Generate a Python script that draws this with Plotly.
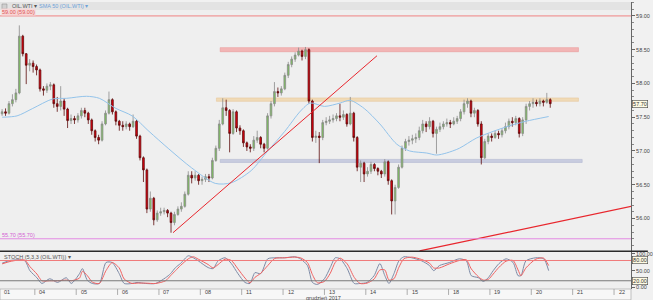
import plotly.graph_objects as go

# ---------------- data ----------------
day_labels = ["01", "04", "05", "06", "07", "08", "11", "12", "13", "14", "15", "18", "19", "20", "21", "22"]
month_label = "grudzień 2017"
symbol = "OIL.WTI"

first_open = 57.55
closes = [
    57.58, 57.56, 57.70, 57.76, 57.86, 58.70, 58.44, 58.27, 58.30, 58.25,
    58.20, 57.92, 57.90, 57.96, 57.98, 57.70, 57.66, 57.74, 57.62, 57.45, 57.48, 57.46,
    57.52, 57.60, 57.56, 57.46, 57.30, 57.20, 57.16, 57.40, 57.56, 57.76, 57.58, 57.44,
    57.38, 57.36, 57.40, 57.36, 57.44, 57.22, 56.90, 56.72, 56.14, 56.30, 55.98, 56.08,
    56.10, 56.12, 56.08, 55.94, 56.06, 56.14, 56.18, 56.36, 56.64, 56.60, 56.64, 56.56,
    56.58, 56.62, 56.60, 56.86, 57.04, 57.40, 57.64, 57.60, 57.26, 57.58, 57.34, 57.30,
    57.12, 57.06, 57.04, 57.16, 57.20, 57.10, 57.04, 57.52, 57.70, 57.88, 57.86, 57.92,
    58.12, 58.28, 58.36, 58.42, 58.48, 58.40, 58.50, 57.74, 57.20, 57.22, 57.20, 57.42,
    57.44, 57.46, 57.48, 57.52, 57.50, 57.54, 57.40, 57.56, 57.20, 56.76, 56.82, 56.66,
    56.70, 56.80, 56.74, 56.70, 56.66, 56.84, 56.56, 56.26, 56.46, 56.76, 57.04, 57.14,
    57.16, 57.18, 57.20, 57.30, 57.40, 57.36, 57.44, 57.26, 57.32, 57.36, 57.40, 57.42,
    57.40, 57.44, 57.48, 57.58, 57.70, 57.74, 57.56, 57.60, 57.40, 56.90, 57.14, 57.22,
    57.20, 57.26, 57.24, 57.30, 57.36, 57.44, 57.42, 57.48, 57.26, 57.46, 57.66, 57.70,
    57.72, 57.70, 57.74, 57.72, 57.76, 57.70,
]
highs = [
    57.62, 57.63, 57.74, 57.84, 57.92, 58.86, 58.72, 58.45, 58.36, 58.34,
    58.28, 58.22, 57.96, 58.00, 58.02, 58.00, 57.80, 57.96, 57.78, 57.64, 57.54, 57.52,
    57.56, 57.64, 57.64, 57.58, 57.48, 57.32, 57.24, 57.44, 57.60, 57.88, 57.78, 57.60,
    57.46, 57.44, 57.44, 57.42, 57.54, 57.46, 57.24, 56.92, 56.74, 56.40, 56.32, 56.12,
    56.16, 56.16, 56.14, 56.10, 56.10, 56.18, 56.24, 56.40, 56.70, 56.70, 56.70, 56.66,
    56.62, 56.66, 56.66, 56.90, 57.08, 57.46, 57.78, 57.76, 57.62, 57.62, 57.60, 57.38,
    57.32, 57.14, 57.10, 57.22, 57.30, 57.22, 57.12, 57.56, 57.74, 58.02, 57.94, 57.96,
    58.16, 58.32, 58.40, 58.46, 58.53, 58.50, 58.54, 58.52, 57.76, 57.30, 57.28, 57.46,
    57.50, 57.52, 57.54, 57.56, 57.70, 57.60, 57.56, 57.80, 57.58, 57.22, 56.86, 56.84,
    56.76, 56.84, 56.82, 56.76, 56.72, 56.88, 56.86, 56.58, 56.50, 56.80, 57.08, 57.18,
    57.22, 57.24, 57.26, 57.36, 57.46, 57.44, 57.50, 57.46, 57.36, 57.42, 57.44, 57.48,
    57.46, 57.50, 57.52, 57.62, 57.76, 57.78, 57.76, 57.64, 57.62, 57.44, 57.18, 57.26,
    57.26, 57.30, 57.30, 57.34, 57.42, 57.48, 57.50, 57.52, 57.50, 57.50, 57.70, 57.74,
    57.78, 57.76, 57.78, 57.76, 57.86, 57.78,
]
lows = [
    57.52, 57.52, 57.54, 57.66, 57.72, 57.84, 58.40, 57.99, 58.18, 58.16,
    58.12, 57.88, 57.82, 57.86, 57.90, 57.64, 57.58, 57.60, 57.52, 57.34, 57.40, 57.40,
    57.42, 57.48, 57.50, 57.40, 57.24, 57.14, 57.10, 57.14, 57.38, 57.54, 57.54, 57.38,
    57.30, 57.30, 57.32, 57.30, 57.34, 57.18, 56.86, 56.54, 56.08, 56.10, 55.90, 55.95,
    56.04, 56.06, 56.02, 55.79, 55.90, 56.04, 56.10, 56.16, 56.34, 56.52, 56.56, 56.50,
    56.50, 56.54, 56.54, 56.58, 56.84, 57.00, 57.38, 57.52, 56.98, 57.24, 57.28, 57.24,
    57.06, 57.00, 56.98, 57.00, 57.12, 57.04, 56.98, 57.02, 57.48, 57.66, 57.80, 57.82,
    57.90, 58.08, 58.24, 58.32, 58.40, 58.34, 58.36, 57.70, 57.14, 57.12, 56.82, 57.16,
    57.38, 57.40, 57.42, 57.44, 57.44, 57.46, 57.36, 57.38, 57.14, 56.70, 56.54, 56.54,
    56.62, 56.66, 56.70, 56.64, 56.60, 56.62, 56.50, 56.06, 56.06, 56.44, 56.74, 57.00,
    57.08, 57.10, 57.12, 57.16, 57.26, 57.28, 57.32, 57.20, 56.96, 57.28, 57.32, 57.36,
    57.34, 57.38, 57.40, 57.44, 57.54, 57.64, 57.50, 57.50, 57.36, 56.80, 56.88, 57.10,
    57.14, 57.18, 57.18, 57.20, 57.26, 57.32, 57.36, 57.38, 57.20, 57.22, 57.40, 57.60,
    57.64, 57.66, 57.66, 57.66, 57.70, 57.64,
]

# SMA 50 (time in trading-day units, price)
sma_t = [0.21, 0.57, 0.95, 1.43, 1.77, 2.25, 2.56, 2.96, 3.35, 3.76, 4.24, 4.79, 5.36, 5.75,
         6.23, 6.63, 7.04, 7.42, 7.66, 8.00, 8.38, 8.62, 8.96, 9.34, 9.75, 10.06, 10.47,
         10.71, 10.95, 11.26, 11.67, 12.08, 12.46, 12.87, 13.42]
sma_vals = [57.50, 57.52, 57.63, 57.77, 57.78, 57.81, 57.78, 57.63, 57.52, 57.29, 57.03, 56.75,
            56.52, 56.53, 56.71, 57.00, 57.29, 57.59, 57.71, 57.66, 57.71, 57.75, 57.63, 57.40,
            57.10, 57.00, 56.97, 56.94, 56.97, 57.04, 57.19, 57.29, 57.37, 57.44, 57.51]

# Stochastic oscillator
stoch_t = [0.21, 0.40, 0.59, 0.76, 0.88, 1.05, 1.17, 1.36, 1.55, 1.76, 1.88, 2.08, 2.15, 2.27,
           2.39, 2.56, 2.72, 2.87, 3.04, 3.16, 3.35, 3.47, 3.68, 3.92, 4.16, 4.28, 4.40, 4.52,
           4.71, 4.83, 4.95, 5.19, 5.31, 5.43, 5.60, 5.75, 5.91, 6.08, 6.20, 6.32, 6.46, 6.63,
           6.80, 7.04, 7.28, 7.42, 7.59, 7.71, 7.83, 8.00, 8.14, 8.26, 8.38, 8.55, 8.72, 8.86,
           9.03, 9.20, 9.34, 9.46, 9.56, 9.68, 9.80, 9.92, 10.11, 10.35, 10.54, 10.64, 10.78,
           11.02, 11.26, 11.43, 11.55, 11.72, 11.84, 11.96, 12.08, 12.22, 12.39, 12.56, 12.68,
           12.75, 12.87, 13.11, 13.30, 13.42]
stoch_k = [72, 80, 82, 79, 50, 29, 12, 26, 15, 29, 12, 41, 56, 21, 12, 12, 74, 74, 41, 12,
           12, 15, 12, 12, 29, 41, 59, 71, 94, 88, 79, 59, 56, 79, 88, 71, 41, 15, 12, 44,
           41, 85, 88, 88, 91, 85, 65, 15, 9, 26, 59, 88, 85, 56, 12, 12, 15, 35, 71, 35,
           12, 41, 79, 91, 88, 79, 65, 50, 65, 74, 85, 79, 35, 29, 18, 29, 50, 71, 85, 74,
           35, 35, 79, 88, 85, 50]
stoch_d = [70, 77, 81, 81, 62, 40, 20, 20, 20, 22, 20, 28, 48, 35, 16, 12, 50, 74, 58, 25,
           12, 13, 13, 12, 20, 35, 50, 65, 85, 91, 84, 68, 58, 68, 84, 80, 55, 28, 14, 30,
           42, 65, 86, 88, 90, 88, 74, 38, 14, 18, 42, 74, 87, 70, 30, 12, 13, 25, 52, 52,
           22, 26, 60, 85, 90, 83, 72, 58, 58, 70, 80, 82, 55, 32, 22, 24, 40, 60, 78, 80,
           52, 35, 58, 84, 87, 65]
stoch_levels = [80, 20]

# chart drawings
top_level = 59.00
bottom_level = 55.70
last_price = 57.70
zones = [  # (low, high, t_start, t_end)
    (58.47, 58.53, 5.48, 14.14),
    (57.735, 57.785, 5.39, 14.14),
    (56.83, 56.875, 5.48, 14.23),
]
trend_up_t = [4.34, 9.27]
trend_up_p = [55.79, 58.41]
trend_low_t = [10.3, 15.5]
trend_low_p = [55.52, 56.19]

# ---------------- bar time slots (trading day index, hour) ----------------
bar_slots = ([(0, h) for h in range(4, 24, 2)]
             + [(d, h) for d in range(1, 13) for h in range(0, 24, 2)]
             + [(13, h) for h in range(0, 12, 2)])
bar_x = [d + (h + 1) / 24 for d, h in bar_slots]
opens = [first_open] + closes[:-1]

# ---------------- figure ----------------
W, H = 653, 300
ML, MR, MT, MB = 0, 17, 0, 11
PW, PH = W - ML - MR, H - MT - MB
X_RANGE = [0.158, 15.41]
FONT = "Liberation Sans, Arial, sans-serif"

def px_y(p):  # pixel offset -> paper fraction (from top of plot area)
    return 1 - p / PH

fig = go.Figure()

fig.add_trace(go.Candlestick(
    x=bar_x, open=opens, high=highs, low=lows, close=closes,
    increasing=dict(fillcolor="#7cc35c", line=dict(color="#8a8a8a", width=0.8)),
    decreasing=dict(fillcolor="#e3000f", line=dict(color="#5c0a0a", width=0.8)),
    whiskerwidth=0, xaxis="x", yaxis="y", hoverinfo="skip",
))
fig.add_trace(go.Scatter(x=sma_t, y=sma_vals, mode="lines", line=dict(color="#93c3ea", width=1, shape="spline", smoothing=0.8),
                         xaxis="x", yaxis="y", hoverinfo="skip"))
fig.add_trace(go.Scatter(x=trend_up_t, y=trend_up_p, mode="lines", line=dict(color="#e8262d", width=1),
                         xaxis="x", yaxis="y", hoverinfo="skip"))
fig.add_trace(go.Scatter(x=trend_low_t, y=trend_low_p, mode="lines", line=dict(color="#e8262d", width=1.2),
                         xaxis="x", yaxis="y", hoverinfo="skip"))
fig.add_trace(go.Scatter(x=stoch_t, y=stoch_k, mode="lines", line=dict(color="#7d8aa6", width=1, shape="spline", smoothing=0.7),
                         xaxis="x", yaxis="y2", hoverinfo="skip"))
fig.add_trace(go.Scatter(x=stoch_t, y=stoch_d, mode="lines", line=dict(color="#f06262", width=1, shape="spline", smoothing=0.7),
                         xaxis="x", yaxis="y2", hoverinfo="skip"))

shapes = []
# header band
shapes.append(dict(type="rect", xref="paper", yref="paper", x0=0, x1=1, y0=px_y(8), y1=1,
                   fillcolor="#e3e3e3", line=dict(width=0), layer="below"))
shapes.append(dict(type="rect", xref="paper", yref="paper", x0=2 / PW, x1=7 / PW, y0=px_y(7), y1=px_y(2),
                   fillcolor="#d0d0d0", line=dict(color="#888", width=0.5)))
# zones
zone_styles = [("#f2b5b5", "#e99a9a"), ("#f0dab6", "#e7c99d"), ("#c8cce0", "#b3b9d2")]
for (lo, hi, t0, t1), (fc, lc) in zip(zones, zone_styles):
    shapes.append(dict(type="rect", xref="x", yref="y", x0=t0, x1=t1, y0=lo, y1=hi,
                       fillcolor=fc, line=dict(color=lc, width=0.6), layer="below"))
# horizontal levels
shapes.append(dict(type="line", xref="paper", yref="y", x0=0, x1=1, y0=top_level, y1=top_level,
                   line=dict(color="#f08383", width=1)))
shapes.append(dict(type="line", xref="paper", yref="y", x0=0, x1=1, y0=bottom_level, y1=bottom_level,
                   line=dict(color="#e38ae3", width=1)))
for lvl, col in zip(stoch_levels, ["#f07a7a", "#7a7a7a"]):
    shapes.append(dict(type="line", xref="paper", yref="y2", x0=0, x1=1, y0=lvl, y1=lvl,
                       line=dict(color=col, width=1)))
# panel separator
sep_y = (PH - 251) / PH
shapes.append(dict(type="line", xref="paper", yref="paper", x0=0, x1=W / PW, y0=sep_y, y1=sep_y,
                   line=dict(color="#2a2a2a", width=1.5)))
# x-axis row
shapes.append(dict(type="rect", xref="paper", yref="paper", x0=0, x1=1, y0=-MB / PH, y1=0,
                   fillcolor="#f7f7f7", line=dict(color="#a0a0a0", width=0.6)))
for k in range(len(day_labels)):
    shapes.append(dict(type="line", xref="x", yref="paper", x0=k, x1=k, y0=-6 / PH, y1=0,
                       line=dict(color="#9a9a9a", width=0.8)))

annotations = []
span = X_RANGE[1] - X_RANGE[0]
for k, lab in enumerate(day_labels):
    pos = max(k + 2.5 / 41.7, X_RANGE[0] + 2.5 / 41.7)
    annotations.append(dict(text=lab, xref="paper", yref="paper", x=(pos - X_RANGE[0]) / span, y=-2.8 / PH,
                            xanchor="left", yanchor="middle", showarrow=False,
                            font=dict(size=5.5, color="#444", family=FONT)))
annotations.append(dict(text=month_label, xref="paper", yref="paper", x=306 / PW, y=-8.6 / PH,
                        xanchor="left", yanchor="middle", showarrow=False,
                        font=dict(size=5.5, color="#444", family=FONT)))
annotations.append(dict(text=f"{symbol} ▾", xref="paper", yref="paper", x=10 / PW, y=px_y(4.5),
                        xanchor="left", yanchor="middle", showarrow=False,
                        font=dict(size=5.5, color="#555", family=FONT)))
annotations.append(dict(text=f"SMA 50 ({symbol}) ▾", xref="paper", yref="paper", x=37 / PW, y=px_y(4.5),
                        xanchor="left", yanchor="middle", showarrow=False,
                        font=dict(size=5.5, color="#6ea2d8", family=FONT)))
annotations.append(dict(text=f"{top_level:.2f} ({top_level:.2f})", xref="paper", yref="y", x=1 / PW, y=top_level,
                        yshift=3.5, xanchor="left", yanchor="middle", showarrow=False, bgcolor="#f7d6d6",
                        borderpad=0, font=dict(size=5.5, color="#e05555", family=FONT)))
annotations.append(dict(text=f"{bottom_level:.2f} ({bottom_level:.2f})", xref="paper", yref="y", x=1 / PW,
                        y=bottom_level, yshift=3.5, xanchor="left", yanchor="middle", showarrow=False,
                        borderpad=0, font=dict(size=5.5, color="#d35cd3", family=FONT)))
annotations.append(dict(text=f"STOCH (5,3,3 ({symbol})) ▾", xref="paper", yref="y2", x=2 / PW, y=90,
                        xanchor="left", yanchor="middle", showarrow=False,
                        font=dict(size=5.5, color="#555", family=FONT)))
annotations.append(dict(text=f"{last_price:.2f}", xref="paper", yref="y", x=1, y=last_price, xshift=1,
                        xanchor="left", yanchor="middle", showarrow=False, bgcolor="#fffbe3",
                        bordercolor="#444", borderwidth=0.6, borderpad=0.5,
                        font=dict(size=5.5, color="#333", family=FONT)))
for lvl in stoch_levels:
    annotations.append(dict(text=f"{lvl:.2f}", xref="paper", yref="y2", x=1, y=lvl, xshift=1,
                            xanchor="left", yanchor="middle", showarrow=False, bgcolor="#fffbe3",
                            bordercolor="#444", borderwidth=0.6, borderpad=0.5,
                            font=dict(size=5.5, color="#333", family=FONT)))

axis_common = dict(side="right", showgrid=False, zeroline=False, showline=True, linecolor="#666",
                   linewidth=1, ticks="outside", ticklen=3, tickcolor="#666",
                   tickfont=dict(size=5.5, color="#444", family=FONT))

fig.update_layout(
    width=W, height=H, margin=dict(l=ML, r=MR, t=MT, b=MB),
    paper_bgcolor="#f1f1f1", plot_bgcolor="#efefef",
    showlegend=False, hovermode=False,
    xaxis=dict(range=X_RANGE, showticklabels=False, showgrid=False, zeroline=False, showline=False,
               ticks="", anchor="y2", rangeslider=dict(visible=False)),
    yaxis=dict(domain=[(PH - 251) / PH, 1], range=[55.515, 59.206], anchor="x",
               tick0=56.0, dtick=0.5, tickformat=".2f",
               minor=dict(dtick=0.1, ticks="outside", ticklen=2, tickcolor="#888"),
               **axis_common),
    yaxis2=dict(domain=[0, (PH - 252) / PH], range=[-4.4, 104.4], anchor="x",
                tickmode="array", tickvals=[0, 50, 100], tickformat=".2f", **axis_common),
    shapes=shapes, annotations=annotations,
    font=dict(family=FONT),
)

fig.write_html("out.html")
